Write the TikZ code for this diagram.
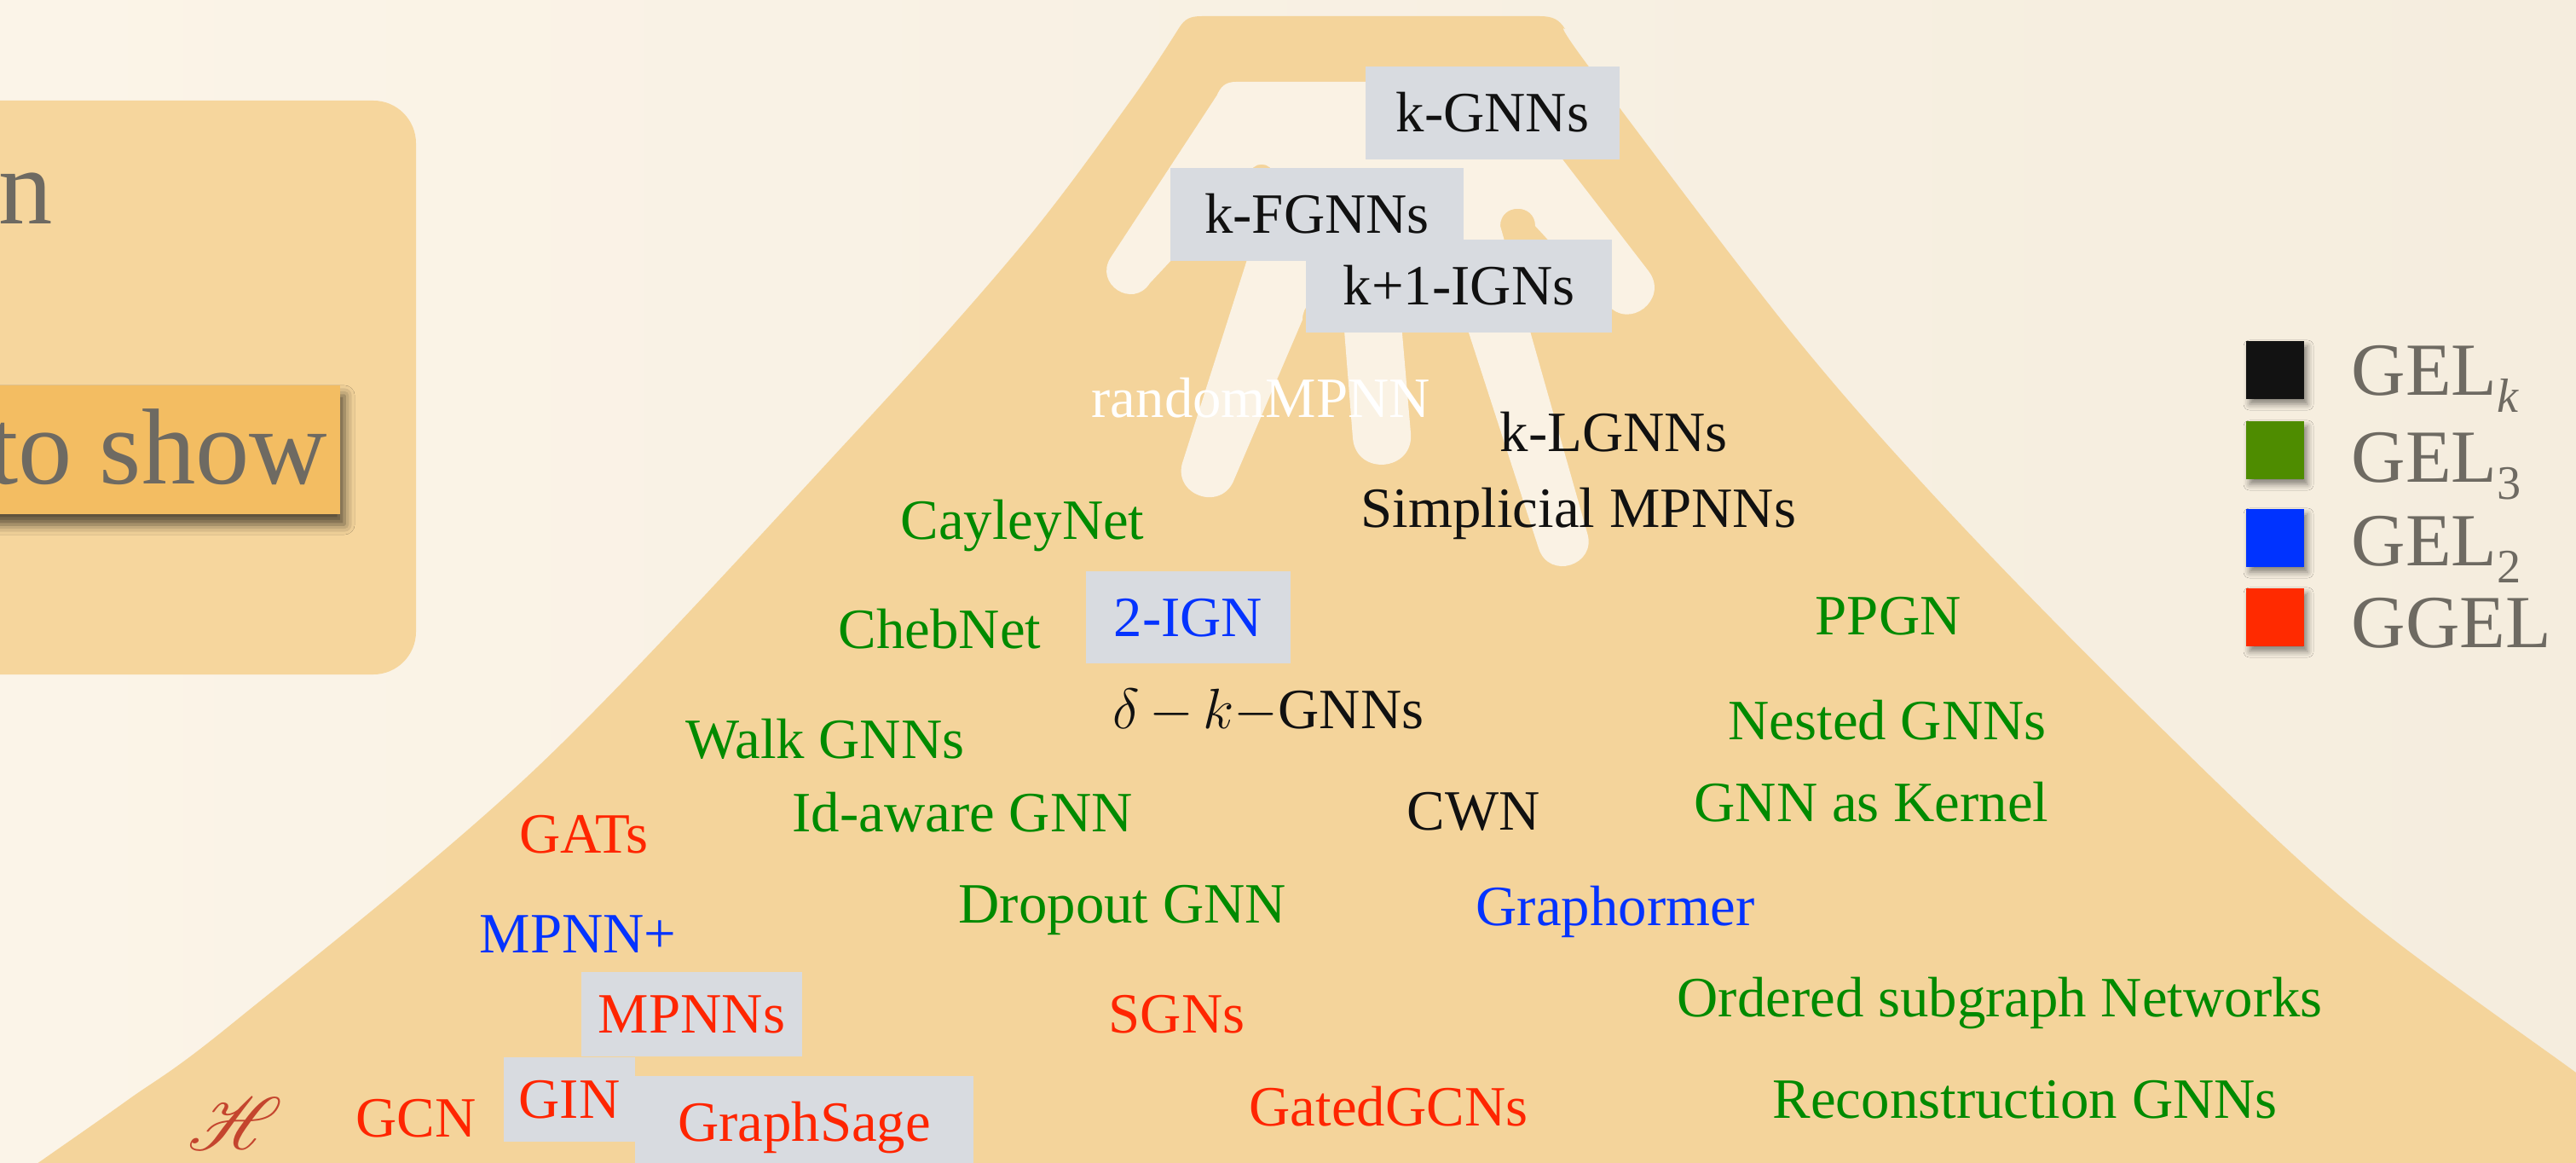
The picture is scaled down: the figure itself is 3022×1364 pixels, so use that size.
\RequirePackage{fix-cm}
\documentclass[tikz,border=0pt]{standalone}
\usepackage{fontspec}
\setmainfont{Liberation Serif}
\usepackage{mathrsfs}
\usetikzlibrary{shadows.blur}

\definecolor{bgleft}{HTML}{FBF4E8}
\definecolor{bgright}{HTML}{F5EDDE}
\definecolor{snow}{HTML}{FAF2E4}
\definecolor{mount}{HTML}{F4D49B}
\definecolor{panel}{HTML}{F6D69D}
\definecolor{tag}{HTML}{F3BD62}
\definecolor{boxgray}{HTML}{D8DBE0}
\definecolor{legendgray}{HTML}{6E6A62}
\definecolor{tgreen}{HTML}{008A00}
\definecolor{tred}{HTML}{FF2500}
\definecolor{tblue}{HTML}{0433FF}
\definecolor{tblack}{HTML}{111111}
\definecolor{sqblack}{HTML}{121212}
\definecolor{sqgreen}{HTML}{4E8C00}
\definecolor{sqblue}{HTML}{0033FF}
\definecolor{sqred}{HTML}{FF2A00}
\definecolor{hcolor}{HTML}{C4452E}

\begin{document}
\begin{tikzpicture}[x=0.01cm, y=-0.01cm,
  lbl/.style={anchor=base west, inner sep=0pt, font=\fontsize{19}{23}\selectfont},
  gbox/.style={fill=boxgray, inner sep=0pt, text height=0.44cm, text depth=0pt,
    font=\fontsize{19}{23}\selectfont},
  legsq/.style={minimum size=0.68cm, inner sep=0pt,
    blur shadow={shadow xshift=0.04cm, shadow yshift=-0.06cm,
      shadow blur radius=0.07cm, shadow opacity=45}},
  legtxt/.style={anchor=base west, inner sep=0pt, text=legendgray,
    font=\fontsize{25}{30}\selectfont},
  bigtxt/.style={anchor=base west, inner sep=0pt, text=legendgray,
    font=\fontsize{36}{42}\selectfont}]

\useasboundingbox (0,0) rectangle (3022,1364);
\clip (0,0) rectangle (3022,1364);

% paper background
\shade[left color=bgleft, right color=bgright] (0,0) rectangle (3022,1364);

% left panel with the highlighted phrase
\fill[panel, rounded corners=0.5cm] (-80,118) rectangle (488,791);
\node[bigtxt] (toptext) at (-2,263) {n};
\node[fill=tag, minimum width=4.79cm, minimum height=1.51cm, inner sep=0pt,
  blur shadow={shadow xshift=0.05cm, shadow yshift=-0.12cm,
    shadow blur radius=0.12cm, shadow opacity=65}] (tagbox) at (159.5,527.5) {};
\node[bigtxt] (toshow) at (-14,567) {to show};

% mountain
\fill[mount] (-60,1440) -- plot[smooth, tension=0.55] coordinates {
    (-6,1400) (46,1363) (150,1290) (273,1200) (630,900) (1000,511)
    (1200,286) (1325,120) (1383,33)}
  .. controls (1390,22) and (1396,19) .. (1410,19) -- (1806,19)
  .. controls (1822,19) and (1829,23) .. (1836,34)
  -- plot[smooth, tension=0.55] coordinates {
    (1836,34) (1863,77) (2100,388) (2286,600) (2515,834) (2759,1063)
    (3022,1258) (3080,1300)}
  -- (3080,1440) -- cycle;

% snow cap with its fingers
\fill[snow] (1427.5,112) .. controls (1432,102) and (1437,96) .. (1450,96)
  -- (1763,96)
  -- (1934,318) .. controls (1959,351) and (1910,389) .. (1885,356)
  -- (1801,265) .. controls (1801,238) and (1760,238) .. (1760,265)
  -- (1862,625) .. controls (1874,663) and (1817,681) .. (1805,643)
  -- (1697,310) .. controls (1697,271) and (1638,271) .. (1638,310)
  -- (1655,508) .. controls (1659,553) and (1591,559) .. (1587,514)
  -- (1576,375) .. controls (1576,342) and (1528,342) .. (1528,375)
  -- (1448,562) .. controls (1433,602) and (1373,580) .. (1388,540)
  -- (1494,207) .. controls (1494,188) and (1466,188) .. (1466,207)
  -- (1349,332) .. controls (1329,363) and (1283,333) .. (1303,302)
  -- cycle;

% boxed model families
\node[gbox, minimum width=2.98cm, minimum height=1.09cm, text=tblack] (kgnn) at (1751,132.5) {k-GNNs};
\node[gbox, minimum width=3.44cm, minimum height=1.09cm, text=tblack] (kfgnn) at (1545,251.5) {k-FGNNs};
\node[gbox, minimum width=3.59cm, minimum height=1.09cm, text=tblack] (kign) at (1711.5,335.5) {k+1-IGNs};
\node[gbox, minimum width=2.40cm, minimum height=1.08cm, text=tblue] (ign2) at (1394,724) {2-IGN};
\node[gbox, minimum width=2.59cm, minimum height=0.99cm, text=tred] (mpnns) at (811.5,1189.5) {MPNNs};
\node[gbox, minimum width=1.54cm, minimum height=0.99cm, text=tred] (gin) at (668,1289.5) {GIN};
\node[gbox, minimum width=3.97cm, minimum height=1.08cm, text=tred] (gsage) at (943.5,1316) {GraphSage};

% free-standing model names
\node[lbl, text=white] (rmpnn) at (1280,489) {randomMPNN};
\node[lbl, text=tblack] (klgnn) at (1759,529) {k-LGNNs};
\node[lbl, text=tblack] (simp) at (1596,618) {Simplicial MPNNs};
\node[lbl, text=tgreen] (cayley) at (1056,632) {CayleyNet};
\node[lbl, text=tgreen] (cheb) at (983,760) {ChebNet};
\node[lbl, text=tgreen] (ppgn) at (2129,744) {PPGN};
\node[lbl, text=tblack] (dkgnn) at (1305,854) {$\delta\mskip3mu{-}\mskip3mu k{-}$GNNs};
\node[lbl, text=tgreen] (walk) at (804,889) {Walk GNNs};
\node[lbl, text=tgreen] (nested) at (2027,867) {Nested GNNs};
\node[lbl, text=tred] (gats) at (609,1000) {GATs};
\node[lbl, text=tgreen] (idaware) at (929,975) {Id-aware GNN};
\node[lbl, text=tblack] (cwn) at (1650,973) {CWN};
\node[lbl, text=tgreen] (kernel) at (1987,963) {GNN as Kernel};
\node[lbl, text=tblue] (mpnnplus) at (562,1117) {MPNN+};
\node[lbl, text=tgreen] (dropout) at (1124,1082) {Dropout GNN};
\node[lbl, text=tblue] (graphormer) at (1731,1085) {Graphormer};
\node[lbl, text=tred] (sgns) at (1300,1211) {SGNs};
\node[lbl, text=tgreen] (ordered) at (1967,1192) {Ordered subgraph Networks};
\node[lbl, text=tred] (gcn) at (417,1333) {GCN};
\node[lbl, text=tred] (gated) at (1465,1320) {GatedGCNs};
\node[lbl, text=tgreen] (recon) at (2079,1311) {Reconstruction GNNs};
\node[anchor=base west, inner sep=0pt, text=hcolor, font=\fontsize{25}{29}\selectfont] (hyp) at (220,1348) {$\mathscr{H}$};

% legend
\node[legsq, fill=sqblack] (sqk) at (2669,434) {};
\node[legsq, fill=sqgreen] (sq3) at (2669,528) {};
\node[legsq, fill=sqblue] (sq2) at (2669,631) {};
\node[legsq, fill=sqred] (sqg) at (2669,724) {};
\node[legtxt] (gelk) at (2758,463) {GEL\raisebox{-0.2cm}{\fontsize{16}{16}\selectfont\itshape k}};
\node[legtxt] (gel3) at (2758,565) {GEL\raisebox{-0.2cm}{\fontsize{16}{16}\selectfont 3}};
\node[legtxt] (gel2) at (2758,663) {GEL\raisebox{-0.2cm}{\fontsize{16}{16}\selectfont 2}};
\node[legtxt] (ggel) at (2758,759) {GGEL};

\end{tikzpicture}
\end{document}
